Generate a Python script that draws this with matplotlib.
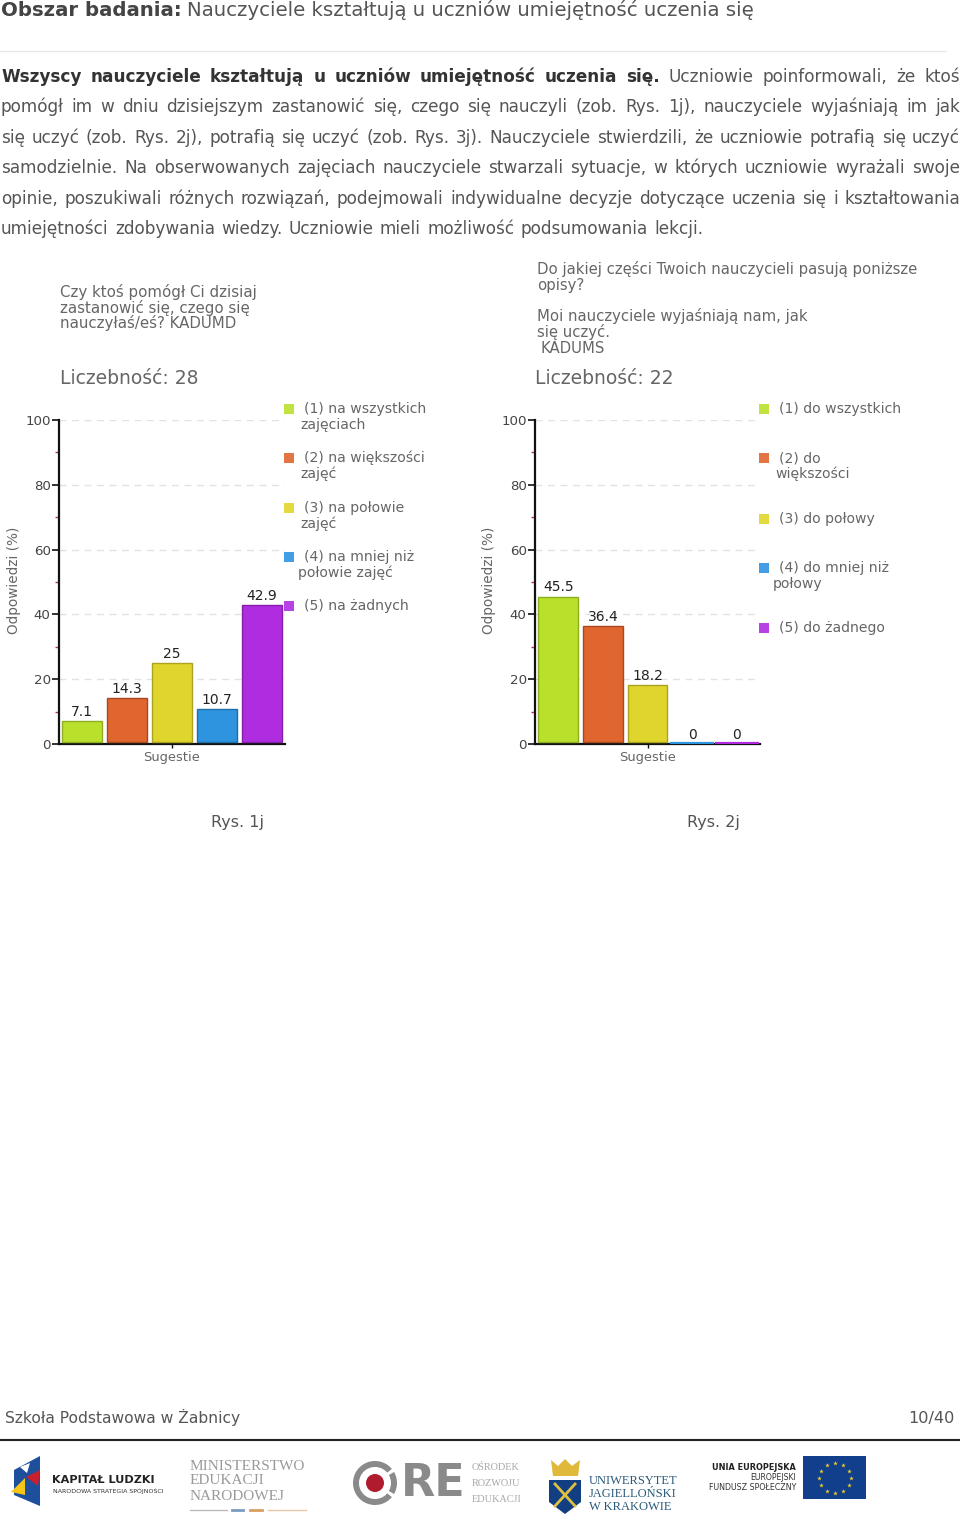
import matplotlib
matplotlib.use("Agg")
import matplotlib.pyplot as plt
from matplotlib.patches import Rectangle, Polygon, Circle, Wedge

W, H = 960, 1528
TXT = '#555555'
colors = ['#b9e02a', '#e0652e', '#e0d52c', '#2e94e0', '#b02ce0']
edges = ['#8fae20', '#a8481f', '#aaa320', '#1f6ea8', '#8420a8']
yticks = [0, 20, 40, 60, 80, 100]
minor_ticks = [10, 30, 50, 70, 90]
values_1 = [7.1, 14.3, 25, 10.7, 42.9]
labels_1 = ['7.1', '14.3', '25', '10.7', '42.9']
values_2 = [45.5, 36.4, 18.2, 0, 0]
labels_2 = ['45.5', '36.4', '18.2', '0', '0']
legend_1 = [('(1) na wszystkich', 'zajęciach', 16, 409), ('(2) na większości', 'zajęć', 16, 458),
            ('(3) na połowie', 'zajęć', 16, 508), ('(4) na mniej niż', 'połowie zajęć', 14, 557),
            ('(5) na żadnych', '', 16, 606)]
legend_2 = [('(1) do wszystkich', '', 16, 409), ('(2) do', 'większości', 16, 458),
            ('(3) do połowy', '', 16, 519), ('(4) do mniej niż', 'połowy', 14, 568),
            ('(5) do żadnego', '', 16, 628)]
para = [
    [('Wszyscy nauczyciele kształtują u uczniów umiejętność uczenia się.', True),
     ('Uczniowie poinformowali, że ktoś', False)],
    [('pomógł im w dniu dzisiejszym zastanowić się, czego się nauczyli (zob. Rys. 1j), nauczyciele wyjaśniają im jak', False)],
    [('się uczyć (zob. Rys. 2j), potrafią się uczyć (zob. Rys. 3j). Nauczyciele stwierdzili, że uczniowie potrafią się uczyć', False)],
    [('samodzielnie. Na obserwowanych zajęciach nauczyciele stwarzali sytuacje, w których uczniowie wyrażali swoje', False)],
    [('opinie, poszukiwali różnych rozwiązań, podejmowali indywidualne decyzje dotyczące uczenia się i kształtowania', False)],
    [('umiejętności zdobywania wiedzy. Uczniowie mieli możliwość podsumowania lekcji.', False)],
]
para_y = [82, 112, 143, 173, 204, 234]

fig = plt.figure(figsize=(W / 100, H / 100), dpi=100, facecolor='white')
page = fig.add_axes([0, 0, 1, 1], zorder=0)
page.set_xlim(0, W); page.set_ylim(H, 0); page.axis('off')
renderer = fig.canvas.get_renderer()


def width(s, size, bold=False):
    t = page.text(0, 0, s, fontsize=size, fontweight='bold' if bold else 'normal')
    w = t.get_window_extent(renderer).width
    t.remove()
    return w


PSIZE = 12.2
for i, (runs, y) in enumerate(zip(para, para_y)):
    words = [(w, b) for s, b in runs for w in s.split(' ')]
    total = sum(width(w, PSIZE, b) for w, b in words)
    gap = (959 - total) / (len(words) - 1) if i < 5 else (702 - total) / (len(words) - 1)
    x = 1
    for w, b in words:
        page.text(x, y, w, fontsize=PSIZE, fontweight='bold' if b else 'normal',
                  color='#333333' if b else TXT, va='baseline', ha='left')
        x += width(w, PSIZE, b) + gap

# header
page.text(1, 16, 'Obszar badania:', fontsize=14.2, fontweight='bold', color='#444444', va='baseline')
page.text(187, 16, 'Nauczyciele kształtują u uczniów umiejętność uczenia się', fontsize=14.2,
          color=TXT, va='baseline')
page.plot([0, 945], [51, 51], color='#e8e8e8', lw=1)


def chart(left, right, vals, labs, legend, title_lines, tsize, n_text, n_x, legx, ylab_x):
    ax = fig.add_axes([left / W, 1 - 744 / H, (right - left) / W, 324 / H], zorder=2)
    ax.patch.set_alpha(0)
    ax.set_xlim(-0.52, 4.52); ax.set_ylim(0, 100)
    ax.yaxis.grid(True, color='#e2e2e2', ls=(0, (5, 4)), lw=1)
    ax.set_axisbelow(True)
    gapv = 0.7
    for i, (v, lab) in enumerate(zip(vals, labs)):
        if v > 0:
            ax.bar(i, v - gapv, bottom=gapv, width=0.89, color=colors[i], edgecolor=edges[i], lw=1, zorder=3)
        else:
            ax.bar(i, 0, bottom=0.4, width=0.98, color=colors[i], edgecolor=colors[i], lw=1.6, zorder=3)
        ax.annotate(lab, (i, v), xytext=(0, 1.5), textcoords='offset points', ha='center', va='bottom',
                    fontsize=10, color='#222222', zorder=4)
    for s in ('top', 'right'):
        ax.spines[s].set_visible(False)
    for s in ('left', 'bottom'):
        ax.spines[s].set_linewidth(1.6); ax.spines[s].set_color('#111111')
    ax.set_yticks(yticks)
    ax.set_yticks(minor_ticks, minor=True)
    ax.tick_params(axis='y', which='major', length=5, width=1.2, color='#111111',
                   labelsize=9.6, labelcolor='#444444', pad=1)
    ax.tick_params(axis='y', which='minor', length=3, width=1, color='#c03048')
    ax.set_xticks([2]); ax.set_xticklabels(['Sugestie'])
    ax.tick_params(axis='x', length=3, width=1, color='#111111', labelsize=9.4, labelcolor='#666666', pad=2)
    page.text(ylab_x, 580, 'Odpowiedzi (%)', rotation=90, fontsize=9.8, color='#666666', ha='center', va='center')
    for txt, xx, yy in title_lines:
        page.text(xx, yy + 5, txt, fontsize=tsize, color='#666666', va='baseline')
    page.text(n_x, 384, n_text, fontsize=13.5, color='#666666', va='baseline')
    for i, (a, b, off, y) in enumerate(legend):
        page.add_patch(Rectangle((legx, y - 5), 10, 10, color=colors[i], lw=0, alpha=0.9))
        page.text(legx + 20, y + 4, a, fontsize=10.1, color='#666666', va='baseline')
        if b:
            page.text(legx + off, y + 20, b, fontsize=10.1, color='#666666', va='baseline')


chart(59, 285, values_1, labels_1, legend_1,
      [('Czy ktoś pomógł Ci dzisiaj', 60, 292), ('zastanowić się, czego się', 60, 308),
       ('nauczyłaś/eś? KADUMD', 60, 323)], 10.85, 'Liczebność: 28', 60, 284, 14)
chart(535, 760, values_2, labels_2, legend_2,
      [('Do jakiej części Twoich nauczycieli pasują poniższe', 537, 269), ('opisy?', 537, 285),
       ('Moi nauczyciele wyjaśniają nam, jak', 537, 316), ('się uczyć.', 537, 332),
       ('KADUMS', 541, 348)], 10.7, 'Liczebność: 22', 535, 759, 489)

page.text(237.5, 823, 'Rys. 1j', fontsize=11.5, color=TXT, ha='center', va='center')
page.text(713, 823, 'Rys. 2j', fontsize=11.5, color=TXT, ha='center', va='center')

# footer
page.text(5, 1423, 'Szkoła Podstawowa w Żabnicy', fontsize=11.2, color=TXT, va='baseline')
page.text(955, 1423, '10/40', fontsize=11.6, color=TXT, va='baseline', ha='right')
page.plot([0, 960], [1440, 1440], color='#222222', lw=1.5)

# logos: Kapitał Ludzki
page.add_patch(Polygon([(14, 1470), (40, 1456), (40, 1506), (14, 1495)], color='#1d4f9c', lw=0))
page.add_patch(Polygon([(20, 1467), (30, 1463), (27, 1473)], color='white', lw=0))
page.add_patch(Polygon([(26, 1477), (40, 1470), (38, 1486)], color='#c8202f', lw=0))
page.add_patch(Polygon([(11, 1492), (25, 1478), (25, 1495)], color='#f5c518', lw=0))
page.text(52, 1480, 'KAPITAŁ LUDZKI', fontsize=8.1, fontweight='bold', color='#222222', va='center')
page.text(53, 1491, 'NARODOWA STRATEGIA SPÓJNOŚCI', fontsize=4.5, color='#333333', va='center')
# MEN
for t, y in [('MINISTERSTWO', 1466), ('EDUKACJI', 1481), ('NARODOWEJ', 1497)]:
    page.text(190, y, t, fontsize=11, family='Liberation Serif', color='#9a9a9a', va='center')
page.plot([190, 227], [1510, 1510], color='#bbbbbb', lw=1)
page.plot([268, 306], [1510, 1510], color='#e8c8a8', lw=1)
page.plot([232, 243], [1510, 1510], color='#7a9cc0', lw=2)
page.plot([250, 262], [1510, 1510], color='#d8a060', lw=2)
# ORE
page.add_patch(Wedge((375, 1483), 22, 40, 320, width=6, color='#8a8a8a', lw=0))
page.add_patch(Wedge((375, 1483), 22, 330, 30, width=6, color='#8a8a8a', lw=0))
page.add_patch(Circle((375, 1483), 9, color='#b01c2e', lw=0))
page.text(401, 1484, 'RE', fontsize=32, fontweight='bold', color='#8a8a8a', va='center', family='Liberation Sans Narrow')
for t, y in [('OŚRODEK', 1467), ('ROZWOJU', 1484), ('EDUKACJI', 1500)]:
    page.text(472, y, t, fontsize=7.4, family='Liberation Serif', color='#a8a8a8', va='center')
# UJ
page.add_patch(Polygon([(551, 1460), (558, 1466), (565, 1459), (572, 1466), (580, 1460), (578, 1476), (553, 1476)],
                       color='#e0b83a', lw=0))
page.add_patch(Polygon([(549, 1480), (581, 1480), (581, 1502), (565, 1514), (549, 1502)], color='#123f82', lw=0))
page.plot([555, 575], [1484, 1506], color='#e0c040', lw=2)
page.plot([575, 555], [1484, 1506], color='#e0c040', lw=2)
for t, y in [('UNIWERSYTET', 1481), ('JAGIELLOŃSKI', 1494), ('W KRAKOWIE', 1507)]:
    page.text(589, y, t, fontsize=9, family='Liberation Serif', color='#2a5a7a', va='center')
# EU
page.text(796, 1467, 'UNIA EUROPEJSKA', fontsize=5.9, fontweight='bold', color='#222222', va='center', ha='right')
page.text(796, 1477, 'EUROPEJSKI', fontsize=5.6, color='#333333', va='center', ha='right')
page.text(796, 1488, 'FUNDUSZ SPOŁECZNY', fontsize=5.7, color='#333333', va='center', ha='right')
page.add_patch(Rectangle((803, 1456), 63, 43, color='#123f8c', lw=0))
page.scatter([835, 843, 849, 851, 849, 843, 835, 827, 821, 819, 821, 827],
             [1463, 1465, 1471, 1478, 1485, 1491, 1493, 1491, 1485, 1478, 1471, 1465],
             marker='*', s=12, color='#f5d020', lw=0)
page.set_xlim(0, W); page.set_ylim(H, 0)

fig.savefig('out.png', dpi=100)
